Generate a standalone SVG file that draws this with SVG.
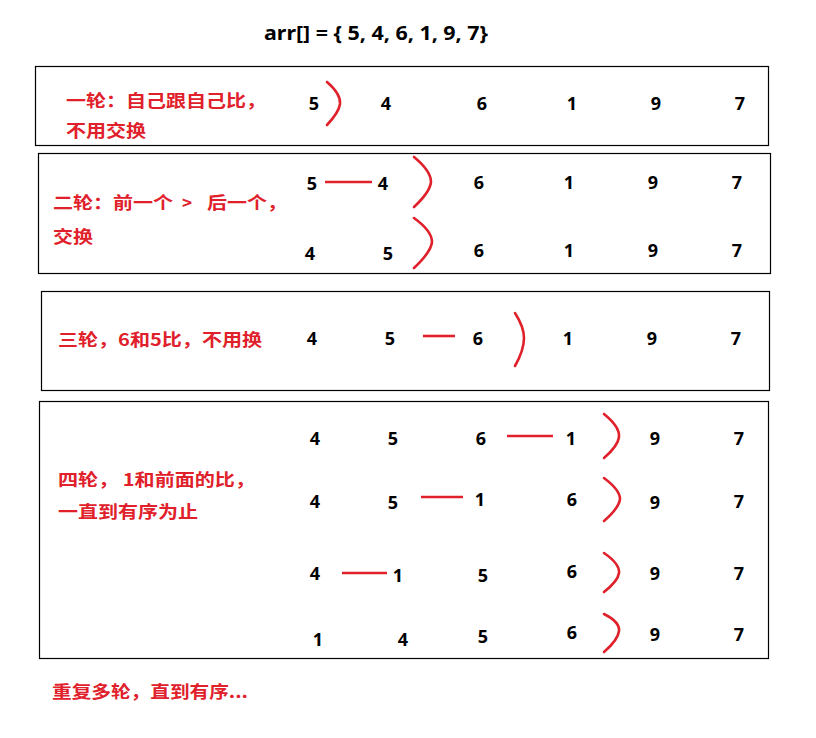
<svg xmlns="http://www.w3.org/2000/svg" width="816" height="738" viewBox="0 0 816 738">
<style>
.box{fill:none;stroke:#000;stroke-width:1.2}
.n{font-family:"Noto Sans","Noto Sans CJK SC",sans-serif;font-weight:bold;font-size:18px;fill:#000;text-anchor:middle}
.t{font-family:"Noto Sans CJK SC","Noto Sans",sans-serif;font-weight:bold;font-size:17px;fill:#e0202a}
.br{fill:none;stroke:#e0202a;stroke-width:2.6;stroke-linecap:round}
.ln{stroke:#e0202a;stroke-width:2.6}
</style>
<rect width="816" height="738" fill="#fff"/>
<text id="title" x="264" y="40" class="n" style="font-size:19px;text-anchor:start" textLength="224" lengthAdjust="spacingAndGlyphs">arr[] = { 5, 4, 6, 1, 9, 7}</text>

<g id="round1">
<rect class="box" x="35.5" y="66.5" width="733" height="79"/>
<text class="t" x="66" y="107" textLength="200" lengthAdjust="spacingAndGlyphs">一轮：自己跟自己比，</text>
<text class="t" x="66" y="137" textLength="80" lengthAdjust="spacingAndGlyphs">不用交换</text>
<g class="n"><text x="314" y="110">5</text><text x="386" y="110">4</text><text x="482" y="110">6</text><text x="572" y="110">1</text><text x="656" y="110">9</text><text x="740" y="110">7</text></g>
</g>

<g id="round2">
<rect class="box" x="38.5" y="153.5" width="732" height="120"/>
<text class="t" x="53" y="209"><tspan textLength="120" lengthAdjust="spacingAndGlyphs">二轮：前一个</tspan><tspan x="182">&gt;</tspan><tspan x="207" textLength="80" lengthAdjust="spacingAndGlyphs">后一个，</tspan></text>
<text class="t" x="53" y="243" textLength="40" lengthAdjust="spacingAndGlyphs">交换</text>
<g class="n"><text x="312" y="190">5</text><text x="383" y="190">4</text><text x="479" y="189">6</text><text x="569" y="189">1</text><text x="653" y="189">9</text><text x="737" y="189">7</text></g>
<g class="n"><text x="310" y="260">4</text><text x="388" y="260">5</text><text x="479" y="257">6</text><text x="569" y="257">1</text><text x="653" y="257">9</text><text x="737" y="257">7</text></g>
</g>

<g id="round3">
<rect class="box" x="41.5" y="291.5" width="728" height="99"/>
<text class="t" x="58" y="346" textLength="204" lengthAdjust="spacingAndGlyphs">三轮，6和5比，不用换</text>
<g class="n"><text x="312" y="345">4</text><text x="390" y="345">5</text><text x="478" y="345">6</text><text x="568" y="345">1</text><text x="652" y="345">9</text><text x="736" y="345">7</text></g>
</g>

<g id="round4">
<rect class="box" x="39.5" y="401.5" width="729" height="257"/>
<text class="t" x="58" y="486" textLength="197" lengthAdjust="spacingAndGlyphs">四轮， 1和前面的比，</text>
<text class="t" x="58" y="518" textLength="140" lengthAdjust="spacingAndGlyphs">一直到有序为止</text>
<g class="n"><text x="315" y="445">4</text><text x="393" y="445">5</text><text x="481" y="445">6</text><text x="571" y="445">1</text><text x="655" y="445">9</text><text x="739" y="445">7</text></g>
<g class="n"><text x="315" y="508">4</text><text x="393" y="509">5</text><text x="480" y="506">1</text><text x="572" y="506">6</text><text x="655" y="509">9</text><text x="739" y="508">7</text></g>
<g class="n"><text x="315" y="580">4</text><text x="398" y="582">1</text><text x="483" y="582">5</text><text x="572" y="578">6</text><text x="655" y="580">9</text><text x="739" y="580">7</text></g>
<g class="n"><text x="318" y="646">1</text><text x="403" y="646">4</text><text x="483" y="643">5</text><text x="572" y="639">6</text><text x="655" y="641">9</text><text x="739" y="641">7</text></g>
</g>

<text id="footer" class="t" x="52" y="698" textLength="196" lengthAdjust="spacingAndGlyphs">重复多轮，直到有序...</text>

<g id="connectors">
<path class="br" d="M327,82 Q341,94 340,104 Q339,112 327,125"/>
<line class="ln" x1="325" y1="182" x2="372" y2="182"/>
<path class="br" d="M414,157 Q431,171 431,182 Q430,192 414,207"/>
<path class="br" d="M414,218 Q432,231 432,242 Q431,252 414,268"/>
<line class="ln" x1="423" y1="336" x2="455" y2="336"/>
<path class="br" d="M515,313 Q524,327 524,338 Q524,350 515,366"/>
<line class="ln" x1="507" y1="436" x2="553" y2="436"/>
<path class="br" d="M604,414 Q620,427 619,437 Q618,446 604,458"/>
<line class="ln" x1="421" y1="497" x2="463" y2="497"/>
<path class="br" d="M604,478 Q620,490 620,499 Q619,508 604,521"/>
<line class="ln" x1="342" y1="573" x2="387" y2="573"/>
<path class="br" d="M604,553 Q620,564 619,573 Q618,581 604,592"/>
<path class="br" d="M604,614 Q620,622 619,631 Q618,640 604,652"/>
</g>
</svg>
